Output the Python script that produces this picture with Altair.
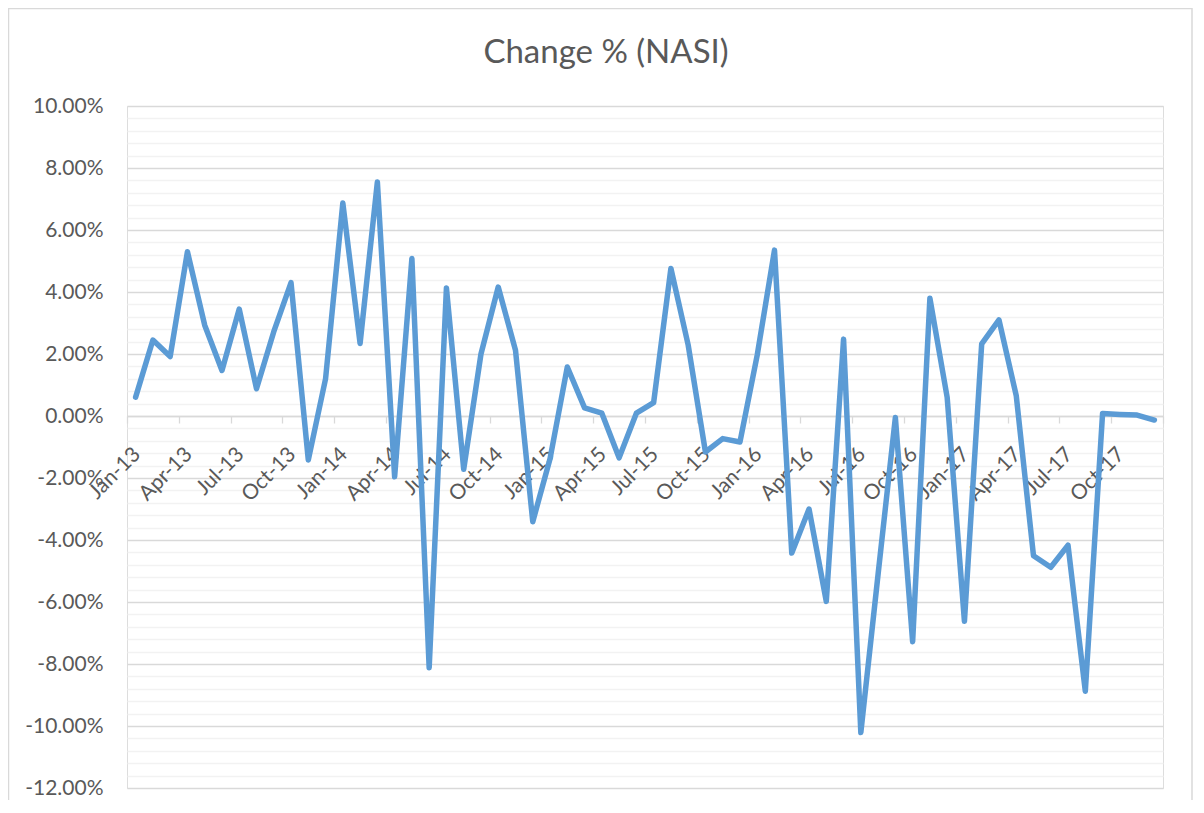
import altair as alt
import pandas as pd

month_names = ["Jan", "Feb", "Mar", "Apr", "May", "Jun", "Jul", "Aug", "Sep", "Oct", "Nov", "Dec"]
years = ["13", "14", "15", "16", "17"]
months = [f"{m}-{y}" for y in years for m in month_names]

change_pct = [0.61, 2.45, 1.92, 5.30, 2.93, 1.47, 3.45, 0.88, 2.72, 4.30,
              -1.42, 1.20, 6.87, 2.34, 7.55, -1.96, 5.08, -8.12, 4.13, -1.72,
              2.00, 4.16, 2.12, -3.41, -1.38, 1.58, 0.26, 0.09, -1.35, 0.09,
              0.43, 4.76, 2.29, -1.16, -0.73, -0.84, 1.97, 5.35, -4.42, -3.00,
              -5.98, 2.48, -10.21, -5.10, -0.05, -7.28, 3.80, 0.60, -6.62, 2.33,
              3.10, 0.66, -4.51, -4.88, -4.17, -8.88, 0.08, 0.05, 0.03, -0.13]

y_ticks = [round(-12 + 0.4 * k, 1) for k in range(56)]
x_ticks = [i - 0.5 for i in range(0, 61, 3)]

df = pd.DataFrame({"idx": list(range(len(months))), "month": months, "change": change_pct})

W, H = 1036, 682
label_array = "[" + ",".join(f"'{m}'" for m in months) + ",'']"
x_label_expr = f"{label_array}[round(datum.value + 0.5)]"
major_test = "abs(round(datum.value * 10)) % 20 == 0"
y_label_expr = f"{major_test} ? replace(format(datum.value, '.2f'), '\u2212', '-') + '%' : ''"

FONT = "Lato"
TXT = "#595959"

line = alt.Chart(df).mark_line(
    color="#5b9bd5", strokeWidth=5.5, strokeCap="round", strokeJoin="round"
).encode(
    x=alt.X("idx:Q",
            scale=alt.Scale(domain=[-0.5, 59.5], nice=False, zero=False),
            axis=alt.Axis(values=x_ticks, labelExpr=x_label_expr, title=None, grid=False,
                          offset=-372, domainColor="#d9d9d9", domainWidth=1.3,
                          tickColor="#d9d9d9", tickSize=7, tickWidth=1.3,
                          labelAngle=-45, labelAlign="right", labelBaseline="top",
                          labelOffset=2, labelPadding=20, labelFont=FONT, labelFontSize=21,
                          labelColor=TXT, labelOverlap=False, labelBound=False, labelFlush=False)),
    y=alt.Y("change:Q",
            scale=alt.Scale(domain=[-12, 10], nice=False, zero=False),
            axis=alt.Axis(values=y_ticks, title=None, domain=False, ticks=False,
                          labelExpr=y_label_expr, labelFont=FONT, labelFontSize=21,
                          labelColor=TXT, labelPadding=24, labelOverlap=False,
                          gridColor=alt.condition(major_test, alt.value("#d9d9d9"), alt.value("#f2f2f2")),
                          gridWidth=1.3)),
)

border = alt.Chart(alt.Data(values=[{"b": 1}])).mark_rect(
    fillOpacity=0, stroke="#d9d9d9", strokeWidth=1.5
).encode(
    x=alt.value(-118.5), x2=alt.value(W + 29), y=alt.value(-97.5), y2=alt.value(H + 40)
)

chart = alt.layer(border, line).properties(
    width=W, height=H,
    padding={"left": 119, "top": 98, "right": 30, "bottom": 12},
    autosize=alt.AutoSizeParams(type="none"),
    title=alt.TitleParams("Change % (NASI)", font=FONT, fontSize=33, fontWeight="normal",
                          color=TXT, anchor="middle", frame="group", dx=-39,
                          baseline="alphabetic", offset=-88),
).configure_view(stroke=None).configure(background="white")

chart.save("out.html", embed_options={"renderer": "svg", "actions": False})
